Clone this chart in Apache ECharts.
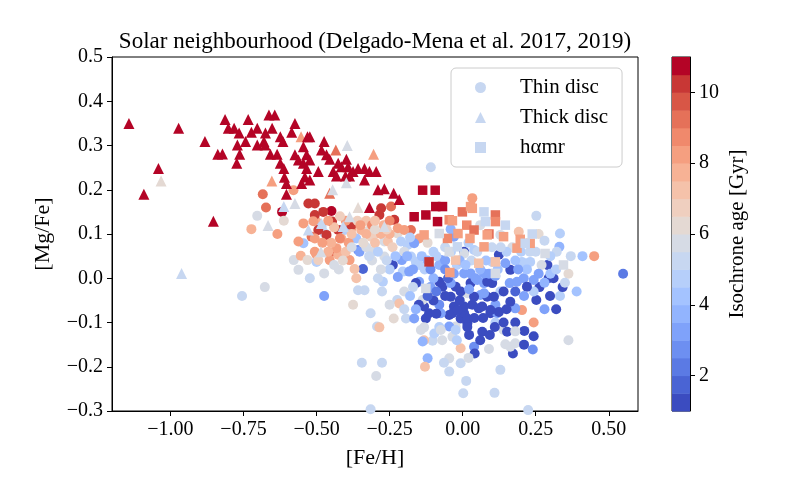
<!DOCTYPE html>
<html>
<head>
<meta charset="utf-8">
<script src="https://cdn.jsdelivr.net/npm/echarts@6/dist/echarts.min.js"></script>
<style>
  html, body { margin: 0; padding: 0; background: #fff; }
  #chart { width: 800px; height: 500px; }
</style>
</head>
<body>
<div id="chart"></div>
<script>
// [Fe/H], [Mg/Fe], isochrone age (Gyr)
var thinDisc = [
  [-0.755,-0.040,5.0],[-0.677,-0.020,5.5],[-0.684,0.190,9.2],[-0.673,0.160,9.2],[-0.703,0.141,5.7],[-0.723,0.111,7.7],
  [-0.634,0.100,8.2],[-0.618,0.150,10.8],[-0.612,0.130,6.2],[-0.578,0.041,5.7],[-0.579,0.199,8.2],[-0.528,0.169,10.2],
  [-0.506,0.169,10.2],[-0.449,0.152,10.8],[-0.477,0.150,10.2],[-0.545,0.124,8.2],[-0.500,0.128,7.7],[-0.483,0.117,4.7],
  [-0.472,0.101,5.0],[-0.285,0.143,10.2],[-0.279,0.158,10.2],[-0.245,0.162,9.2],[-0.415,0.109,3.7],[-0.545,0.079,4.2],
  [-0.381,0.113,8.2],[-0.347,0.109,7.7],[-0.313,0.094,6.7],[-0.364,0.090,4.2],[-0.358,0.064,2.7],[-0.268,0.083,5.7],
  [-0.447,0.128,10.2],[-0.506,0.143,10.2],[-0.511,0.129,8.2],[-0.494,0.109,10.2],[-0.562,0.083,8.2],[-0.517,0.094,9.2],
  [-0.554,0.051,7.7],[-0.531,0.041,6.2],[-0.500,0.053,8.2],[-0.500,0.037,4.7],[-0.455,0.041,8.2],[-0.438,0.060,9.2],
  [-0.426,0.053,7.7],[-0.387,0.041,8.2],[-0.562,0.019,5.7],[-0.523,0.000,5.0],[-0.474,0.011,5.7],[-0.424,0.020,5.7],
  [-0.474,-0.040,3.2],[-0.404,0.109,4.7],[-0.353,0.060,3.2],[-0.341,0.021,1.7],[-0.370,0.021,7.2],[-0.364,0.000,7.2],
  [-0.336,-0.027,5.0],[-0.358,-0.027,5.0],[-0.375,-0.060,6.2],[-0.315,-0.079,5.0],[-0.293,-0.109,5.0],[-0.285,-0.111,7.2],
  [-0.236,-0.091,6.2],[-0.345,-0.191,5.0],[-0.276,-0.191,5.0],[-0.296,-0.221,5.7],[-0.315,-0.296,5.0],[-0.273,-0.008,4.7],
  [-0.276,-0.030,5.0],[-0.224,-0.049,5.0],[-0.217,-0.057,7.2],[-0.194,-0.091,5.0],[-0.166,-0.091,3.2],[-0.132,-0.064,1.2],
  [-0.126,-0.091,1.2],[-0.132,-0.111,5.7],[-0.103,-0.141,5.0],[-0.132,-0.140,7.2],[-0.120,-0.181,3.7],[-0.129,-0.200,7.2],
  [-0.046,-0.181,5.7],[-0.064,-0.191,5.0],[-0.046,-0.211,5.0],[-0.007,-0.192,5.0],[0.012,-0.232,5.0],[0.002,-0.260,5.0],
  [-0.035,-0.132,5.7],[-0.007,-0.158,7.2],[-0.024,-0.109,5.7],[0.016,-0.102,1.2],[0.022,-0.128,1.2],[-0.046,-0.109,3.2],
  [-0.080,-0.110,4.7],[-0.097,-0.125,4.7],[-0.137,-0.049,5.7],[-0.046,-0.083,1.2],[-0.075,-0.079,3.2],[-0.030,-0.064,1.2],
  [-0.007,-0.091,1.2],[0.005,-0.079,1.2],[-0.234,0.132,10.2],[-0.466,0.098,10.2],[-0.426,0.109,10.2],[-0.381,0.120,10.2],
  [-0.319,0.109,6.2],[-0.296,0.101,6.7],[-0.223,0.101,6.2],[-0.177,0.109,9.2],[-0.149,0.090,8.2],[-0.506,0.090,8.2],
  [-0.415,0.090,7.7],[-0.432,0.068,8.2],[-0.307,0.060,5.7],[-0.256,0.083,7.2],[-0.211,0.083,4.7],[-0.188,0.075,4.7],
  [-0.506,0.060,8.2],[-0.494,0.041,6.7],[-0.268,0.049,5.7],[-0.239,0.030,1.2],[-0.208,0.041,3.2],[-0.205,0.015,4.7],
  [-0.183,0.015,3.2],[-0.160,0.037,4.7],[-0.290,0.000,5.0],[-0.222,0.003,3.2],[-0.222,0.113,8.2],[-0.200,0.109,8.2],
  [-0.166,0.079,3.2],[-0.180,0.092,4.7],[-0.075,0.041,3.2],[-0.030,0.094,3.2],[-0.041,0.111,3.7],[0.005,0.060,1.2],
  [-0.109,0.251,5.0],[0.033,0.181,8.2],[0.129,0.098,5.7],[-0.177,0.049,4.7],[-0.149,0.030,4.7],[-0.149,-0.008,3.2],
  [-0.160,-0.011,1.2],[-0.115,-0.079,1.2],[-0.080,-0.060,2.7],[-0.041,-0.042,1.2],[-0.069,-0.019,1.2],[-0.024,-0.019,1.2],
  [-0.035,-0.079,1.2],[0.033,-0.060,1.2],[0.016,-0.091,1.2],[0.016,-0.110,1.2],[0.067,-0.121,1.2],[0.095,-0.079,1.2],
  [0.118,-0.079,3.2],[0.055,-0.068,1.2],[0.061,-0.038,3.2],[0.084,-0.042,1.2],[0.112,-0.060,3.2],[0.129,-0.030,4.7],
  [0.016,-0.034,5.7],[0.027,-0.011,1.2],[0.073,-0.011,3.2],[0.005,0.011,3.2],[0.027,0.011,3.2],[0.050,-0.004,3.2],
  [0.101,-0.011,1.2],[-0.080,-0.008,1.2],[-0.041,-0.011,3.2],[-0.103,-0.030,5.7],[0.140,-0.117,5.7],[0.152,-0.121,1.2],
  [-0.024,-0.117,4.7],[-0.075,-0.117,5.7],[-0.143,-0.117,5.7],[-0.137,-0.143,3.7],[0.039,-0.155,2.7],[0.252,0.141,5.0],
  [0.333,0.101,4.7],[0.331,0.071,3.7],[0.322,0.060,5.0],[0.370,0.050,5.0],[0.410,0.050,4.2],[0.450,0.050,8.2],
  [0.549,0.010,2.2],[0.390,-0.030,4.2],[0.362,-0.140,5.5],[0.362,0.010,6.2],[0.243,-0.100,8.2],[0.240,-0.161,2.7],
  [0.243,-0.131,1.2],[0.211,-0.119,1.2],[0.180,-0.100,1.2],[0.172,-0.170,1.2],[0.093,-0.128,1.2],[0.041,-0.170,1.2],
  [0.163,-0.155,5.7],[0.146,-0.149,5.7],[0.180,-0.147,5.7],[0.112,-0.100,4.7],[0.140,-0.100,1.2],[0.280,-0.070,3.2],
  [0.320,-0.070,1.2],[0.203,-0.072,8.2],[0.180,-0.068,3.2],[0.252,-0.049,1.2],[0.299,-0.040,1.2],[0.333,-0.040,4.7],
  [0.342,-0.020,1.2],[0.294,0.000,1.2],[0.311,0.000,1.2],[0.263,-0.020,1.2],[0.290,0.030,1.2],[0.243,-0.004,3.2],
  [0.243,-0.030,4.7],[0.209,0.000,3.2],[0.220,-0.019,1.2],[0.163,0.019,1.2],[0.124,0.053,1.2],[0.146,0.034,3.2],
  [0.161,-0.011,3.2],[0.186,-0.008,3.2],[0.231,0.037,4.7],[0.203,0.037,4.7],[0.163,-0.053,1.2],[0.124,-0.076,1.2],
  [0.095,-0.072,1.2],[0.067,-0.064,1.2],[0.005,-0.064,1.2],[-0.018,-0.072,1.2],[0.107,-0.042,1.2],[0.073,-0.034,3.2],
  [0.039,-0.042,1.2],[-0.007,-0.030,1.2],[0.022,-0.025,3.2],[0.084,-0.008,1.2],[0.112,0.005,3.2],[0.044,0.000,3.2],
  [0.073,0.011,3.2],[0.101,0.037,4.7],[0.039,0.064,4.7],[0.005,0.056,5.7],[0.192,0.105,7.2],[0.260,0.100,6.2],
  [0.129,-0.207,5.0],[0.109,-0.259,5.0],[0.224,-0.298,5.0],[0.280,0.085,5.0],[0.300,0.050,4.7],[0.270,0.030,5.5],
  [0.250,0.060,5.0],[0.200,0.060,4.7],[0.170,0.070,5.5],[0.220,0.020,4.2],[0.350,-0.010,5.0],[0.060,0.120,5.5],
  [0.100,0.070,5.0],[0.150,0.060,4.7],[-0.060,0.070,5.0],[-0.100,0.060,4.7],[-0.120,0.080,6.2],[-0.080,0.030,3.7],
  [-0.020,0.030,4.7],[0.030,0.040,5.0],[-0.130,0.020,4.7],[-0.170,-0.020,5.0],[-0.200,-0.030,5.7],[-0.100,0.000,3.7],
  [-0.050,0.000,1.7],[-0.300,0.080,7.2],[-0.330,0.070,5.7],[-0.280,0.100,7.7],[-0.250,0.100,7.7],[-0.240,0.070,6.7],
  [-0.200,0.060,5.7],[-0.310,0.040,5.5],[-0.390,0.080,8.2],[-0.420,0.090,8.7],[-0.450,0.080,7.7],[-0.400,0.130,8.2],
  [-0.360,0.130,6.7],[-0.330,0.130,7.2],[-0.310,0.120,8.7],[-0.150,-0.060,1.2],[-0.100,-0.050,1.2],[-0.090,-0.080,1.2],
  [-0.110,-0.020,3.2],
  [-0.440,0.115,7.2],[-0.460,0.130,8.2],[-0.420,0.140,6.7],[-0.380,0.100,7.2],[-0.350,0.120,8.2],[-0.330,0.100,7.7],
  [-0.300,0.110,6.2],[-0.270,0.120,7.7],[-0.250,0.130,8.7],[-0.260,0.110,6.7],[-0.300,0.130,7.2],[-0.340,0.080,6.2],
  [-0.320,0.050,5.2],[-0.290,0.060,4.7],[-0.260,0.040,5.2],[-0.230,0.050,4.2],[-0.250,0.020,4.7],[-0.280,0.020,5.7],
  [-0.400,0.060,7.2],[-0.380,0.070,5.7],[-0.410,0.040,6.2],[-0.440,0.030,5.7],[-0.460,0.060,7.7],[-0.480,0.080,8.2],
  [-0.190,0.050,3.7],[-0.170,0.020,3.2],[-0.140,0.050,4.2],[-0.120,0.040,3.7],[-0.110,0.020,2.7],[-0.090,0.050,4.7],
  [-0.060,0.040,3.2],[-0.040,0.060,4.7],[-0.060,0.020,2.7],[-0.030,0.010,3.2],[-0.010,0.040,3.7],[0.010,0.030,4.2],
  [0.020,0.080,4.7],[0.050,0.060,5.2],[0.060,0.020,3.7],[0.080,0.040,4.2],[0.090,0.010,3.2],[0.120,0.020,4.2],
  [0.130,0.070,5.2],[0.180,0.040,4.2],[0.190,0.020,3.2],[0.230,0.060,5.2],[0.260,0.010,3.2],[0.300,0.010,4.2],
  [0.320,0.020,4.7],[0.280,-0.010,3.7],[0.140,-0.030,1.2],[0.180,-0.030,1.7],[0.210,-0.040,3.2],[0.150,-0.070,1.2],
  [0.040,-0.090,1.2],[0.070,-0.090,1.2],[0.110,-0.110,1.2],[-0.010,-0.050,1.2],[-0.060,-0.040,1.2],[-0.090,-0.030,2.2],
  [-0.120,-0.040,1.7],[-0.180,-0.040,4.2],[-0.160,-0.070,3.7],[-0.200,-0.070,5.2],[-0.250,-0.060,5.7],[-0.070,-0.140,5.7],
  [-0.020,-0.140,4.7],[0.060,-0.140,1.2],[0.090,-0.160,5.7],[0.020,-0.180,5.7],[0.180,-0.120,5.7],[0.210,-0.150,1.2]
];

var thickDisc = [
  [-1.142,0.350,10.8],[-1.091,0.190,10.8],[-1.041,0.248,10.8],[-1.032,0.220,6.2],[-0.972,0.339,10.8],[-0.962,0.011,5.0],
  [-0.882,0.309,10.8],[-0.853,0.129,10.8],[-0.838,0.280,10.8],[-0.822,0.281,10.8],[-0.813,0.359,10.8],[-0.802,0.339,10.8],
  [-0.782,0.339,10.8],[-0.765,0.328,10.8],[-0.771,0.301,10.8],[-0.763,0.280,10.8],[-0.773,0.260,10.8],[-0.743,0.309,10.8],
  [-0.734,0.359,10.8],[-0.723,0.330,10.8],[-0.703,0.339,10.8],[-0.703,0.301,10.8],[-0.680,0.309,10.8],[-0.675,0.328,10.8],
  [-0.676,0.301,10.8],[-0.663,0.369,10.8],[-0.643,0.369,10.8],[-0.652,0.339,10.8],[-0.624,0.320,10.8],[-0.615,0.309,10.8],
  [-0.658,0.280,10.8],[-0.635,0.280,10.8],[-0.624,0.260,10.8],[-0.612,0.248,10.8],[-0.610,0.228,10.8],[-0.603,0.214,10.8],
  [-0.603,0.190,10.8],[-0.585,0.330,10.8],[-0.574,0.350,10.8],[-0.553,0.320,8.2],[-0.531,0.320,10.8],[-0.523,0.320,10.8],
  [-0.545,0.297,10.8],[-0.574,0.279,10.8],[-0.562,0.267,10.8],[-0.534,0.279,10.8],[-0.523,0.267,10.8],[-0.545,0.260,10.8],
  [-0.534,0.248,10.8],[-0.540,0.229,10.8],[-0.551,0.214,10.8],[-0.523,0.222,10.8],[-0.494,0.241,10.8],[-0.474,0.309,10.8],
  [-0.483,0.290,10.8],[-0.466,0.279,10.8],[-0.455,0.269,10.8],[-0.434,0.290,9.2],[-0.395,0.300,5.7],[-0.426,0.260,10.8],
  [-0.398,0.269,10.8],[-0.415,0.252,10.8],[-0.392,0.252,10.8],[-0.375,0.241,10.8],[-0.358,0.248,10.8],[-0.336,0.248,10.8],
  [-0.319,0.241,10.8],[-0.296,0.241,10.8],[-0.443,0.241,10.8],[-0.432,0.231,10.8],[-0.401,0.231,10.8],[-0.387,0.231,10.8],
  [-0.336,0.222,10.8],[-0.305,0.280,8.2],[-0.653,0.220,8.2],[-0.612,0.162,5.0],[-0.666,0.119,5.7],[-0.574,0.169,5.7],
  [-0.455,0.192,9.2],[-0.445,0.200,5.7],[-0.398,0.216,5.7],[-0.290,0.200,10.8],[-0.268,0.202,10.8],[-0.236,0.192,10.8],
  [-0.217,0.178,10.8],[-0.319,0.160,10.8],[-0.358,0.160,6.2],[-0.387,0.139,5.7],[-0.528,0.109,5.0],[-0.483,0.124,5.0],
  [-0.409,0.117,5.0],[-0.268,0.117,5.7],[-0.485,0.060,5.7]
];

var hamr = [
  [-0.166,0.139,10.8],[-0.126,0.143,10.8],[-0.092,0.162,10.8],[-0.069,0.162,10.8],[-0.086,0.128,10.8],[-0.137,0.199,10.8],
  [-0.094,0.199,10.8],[-0.115,0.037,10.2],[-0.001,0.150,9.2],[0.112,0.143,9.2],[0.014,0.120,8.7],[0.039,0.109,9.2],
  [0.090,0.100,9.2],[-0.046,0.132,8.7],[0.027,0.162,8.2],[-0.016,0.101,8.2],[-0.052,0.090,8.7],[0.025,0.090,8.2],
  [-0.044,0.013,8.2],[-0.132,0.098,8.2],[0.033,0.158,8.2],[-0.035,0.130,8.2],[0.112,0.128,8.7],[0.084,0.098,8.2],
  [0.073,0.071,8.2],[0.186,0.068,8.2],[0.140,0.094,8.2],[0.231,0.079,8.2],[0.197,0.088,8.2],[-0.024,0.041,7.2],
  [0.055,0.034,7.2],[0.112,0.037,7.2],[-0.080,0.101,5.7],[-0.046,0.060,5.7],[-0.126,-0.023,5.7],[0.112,0.011,5.7],
  [0.282,0.056,5.7],[0.345,0.030,5.7],[-0.018,0.071,5.0],[0.073,0.150,5.0],[0.078,0.128,5.0],[0.214,0.079,5.0],
  [0.146,0.120,5.0],[0.238,0.100,5.0]
];

var xTicks = [-1.0, -0.75, -0.5, -0.25, 0, 0.25, 0.5];
var yTicks = [-0.3, -0.2, -0.1, 0, 0.1, 0.2, 0.3, 0.4, 0.5];
var ageTicks = [2, 4, 6, 8, 10];
// lower edges of the 20 colour bins of the colour bar
var ageBins = [1, 1.5, 2, 2.5, 3, 3.5, 4, 4.5, 5, 5.5, 6, 6.5, 7, 7.5, 8, 8.5, 9, 9.5, 10, 10.5];

// coolwarm colour map (Moreland), sampled
var coolwarm = [
  [59,76,192],[68,90,204],[77,104,215],[87,117,225],[98,130,234],[108,142,241],[119,154,247],[130,165,251],
  [141,176,254],[152,185,255],[163,194,255],[174,201,253],[184,208,249],[194,213,244],[204,217,238],[213,219,230],
  [221,221,221],[229,216,209],[236,211,197],[241,204,185],[245,196,173],[247,187,160],[247,177,148],[247,166,135],
  [244,154,123],[241,141,111],[236,127,99],[229,112,88],[222,96,77],[213,80,66],[203,62,56],[192,40,47],[180,4,38]
];
function cmap(t) {
  var f = t * (coolwarm.length - 1);
  var i = Math.min(Math.floor(f), coolwarm.length - 2);
  var r = f - i;
  var a = coolwarm[i], b = coolwarm[i + 1];
  return 'rgb(' + [0, 1, 2].map(function (k) { return Math.round(a[k] + (b[k] - a[k]) * r); }).join(',') + ')';
}
var binColor = ageBins.map(function (lo, i) { return cmap(i / (ageBins.length - 1)); });

var pieces = ageBins.map(function (lo, i) {
  var p = { gte: lo, lt: lo + 0.5, color: binColor[i] };
  if (i === ageBins.length - 1) { delete p.lt; p.lte = lo + 0.5; }
  return p;
});

var serif = 'Liberation Serif';
function minus(s) { return s.replace('-', '\u2212'); }

var chart = echarts.init(document.getElementById('chart'));
chart.setOption({
  animation: false,
  backgroundColor: '#fff',
  textStyle: { fontFamily: serif },
  graphic: [{
    type: 'text', x: 375, y: 42, z: 10,
    style: { text: 'Solar neighbourhood (Delgado-Mena et al. 2017, 2019)', font: '23px "Liberation Serif"', fill: '#000',
      textAlign: 'center', textVerticalAlign: 'middle' }
  }],
  grid: [
    { left: 112, top: 57, width: 526, height: 354, show: true, borderColor: '#000', borderWidth: 1, backgroundColor: 'transparent' },
    { left: 672, top: 57, width: 18, height: 354, show: true, borderColor: '#000', borderWidth: 1, backgroundColor: 'transparent' }
  ],
  xAxis: [{
    type: 'value', gridIndex: 0, min: -1.2, max: 0.6,
    name: '[Fe/H]', nameLocation: 'middle', nameGap: 36,
    nameTextStyle: { fontFamily: serif, fontSize: 22, color: '#000' },
    axisLine: { show: true, onZero: false, lineStyle: { color: '#000', width: 1 } },
    axisTick: { show: true, length: 5, customValues: xTicks, lineStyle: { color: '#000' } },
    axisLabel: { customValues: xTicks, margin: 9, fontFamily: serif, fontSize: 20, color: '#000',
      formatter: function (v) { return minus(Number(v).toFixed(2)).replace('\u22120.00', '0.00'); } },
    splitLine: { show: false }
  }, {
    type: 'value', gridIndex: 1, min: 0, max: 1, show: false
  }],
  yAxis: [{
    type: 'value', gridIndex: 0, min: -0.3, max: 0.5,
    name: '[Mg/Fe]', nameLocation: 'middle', nameGap: 58, nameRotate: 90,
    nameTextStyle: { fontFamily: serif, fontSize: 22, color: '#000' },
    axisLine: { show: true, onZero: false, lineStyle: { color: '#000', width: 1 } },
    axisTick: { show: true, length: 5, customValues: yTicks, lineStyle: { color: '#000' } },
    axisLabel: { customValues: yTicks, margin: 9, fontFamily: serif, fontSize: 20, color: '#000',
      formatter: function (v) { return minus(Number(v).toFixed(1)).replace('\u22120.0', '0.0'); } },
    splitLine: { show: false }
  }, {
    type: 'value', gridIndex: 1, min: 1, max: 11, position: 'right',
    name: 'Isochrone age [Gyr]', nameLocation: 'middle', nameGap: 37, nameRotate: 90,
    nameTextStyle: { fontFamily: serif, fontSize: 21, color: '#000' },
    axisLine: { show: true, onZero: false, lineStyle: { color: '#000', width: 1 } },
    axisTick: { show: true, length: 5, customValues: ageTicks, lineStyle: { color: '#000' } },
    axisLabel: { customValues: ageTicks, margin: 9, fontFamily: serif, fontSize: 20, color: '#000' },
    splitLine: { show: false }
  }],
  visualMap: {
    type: 'piecewise', show: false, dimension: 2, seriesIndex: [0, 1, 2], pieces: pieces
  },
  legend: {
    orient: 'vertical', left: 451, top: 68,
    padding: [9, 14, 9, 24], itemGap: 9, itemWidth: 11, itemHeight: 11,
    borderColor: '#cccccc', borderWidth: 1, borderRadius: 5, backgroundColor: 'rgba(255,255,255,0.8)',
    textStyle: { fontFamily: serif, fontSize: 21, color: '#000', lineHeight: 21, padding: [0, 0, 0, 29] },
    data: [
      { name: 'Thin disc', icon: 'circle', itemStyle: { color: binColor[8] } },
      { name: 'Thick disc', icon: 'triangle', itemStyle: { color: binColor[8] } },
      { name: 'h\u03b1mr', icon: 'rect', itemStyle: { color: binColor[8] } }
    ]
  },
  series: [
    { name: 'Thin disc', type: 'scatter', xAxisIndex: 0, yAxisIndex: 0, symbol: 'circle', symbolSize: 10,
      itemStyle: { opacity: 1 }, data: thinDisc },
    { name: 'Thick disc', type: 'scatter', xAxisIndex: 0, yAxisIndex: 0, symbol: 'triangle', symbolSize: 11,
      itemStyle: { opacity: 1 }, data: thickDisc },
    { name: 'h\u03b1mr', type: 'scatter', xAxisIndex: 0, yAxisIndex: 0, symbol: 'rect', symbolSize: 9.5,
      itemStyle: { opacity: 1 }, data: hamr },
    {
      name: 'colorbar', type: 'custom', xAxisIndex: 1, yAxisIndex: 1, silent: true,
      data: ageBins.map(function (lo, i) { return [lo, lo + 0.5, i]; }),
      renderItem: function (params, api) {
        var p0 = api.coord([0, api.value(0)]);
        var p1 = api.coord([1, api.value(1)]);
        return {
          type: 'rect',
          shape: { x: p0[0], y: p1[1], width: p1[0] - p0[0], height: p0[1] - p1[1] + 0.5 },
          style: { fill: binColor[api.value(2)] }
        };
      }
    }
  ]
});
</script>
</body>
</html>
